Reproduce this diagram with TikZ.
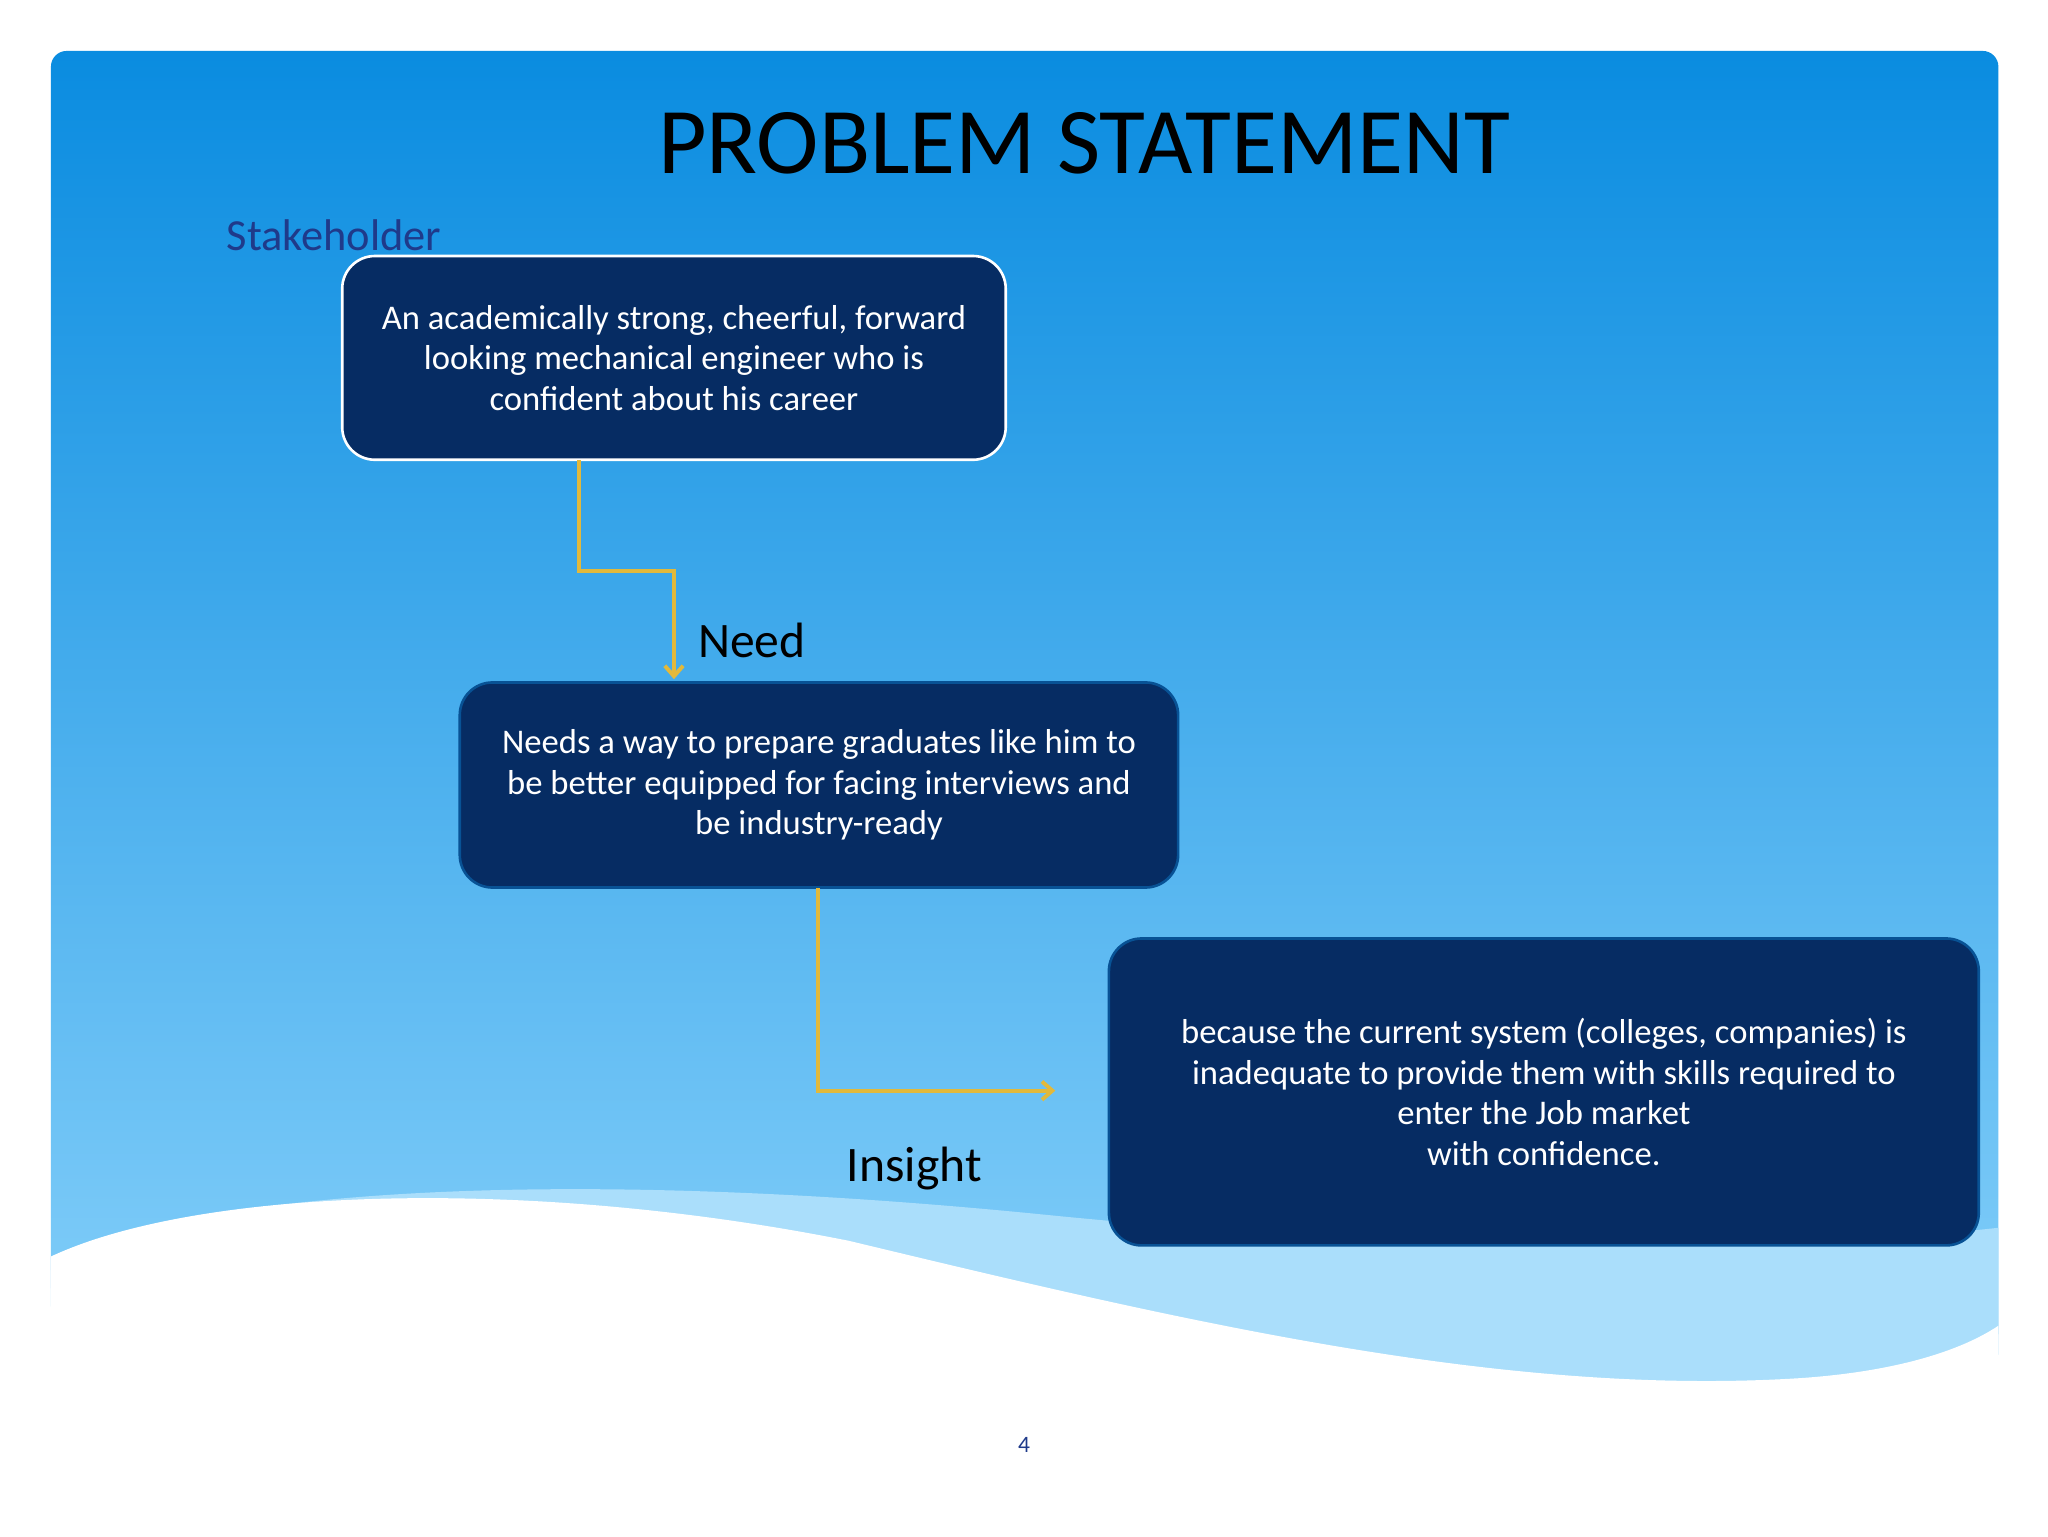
\documentclass[tikz,border=0pt]{standalone}
\usepackage{fontspec}
\setmainfont{Carlito}
\begin{document}
\begin{tikzpicture}[x=1pt,y=-1pt,
  box/.style={draw=#1,line width=2pt,fill=boxblue,rounded corners=25pt,text=white,align=center,font=\fontsize{26.5}{31}\selectfont,inner sep=0pt},
  conn/.style={draw=gold,line width=3pt,-{Straight Barb[length=8pt,width=14pt]}},
  lbl/.style={font=\fontsize{38}{40}\selectfont,text=black}]
\usetikzlibrary{arrows.meta}
\definecolor{boxblue}{HTML}{062C63}
\definecolor{gold}{HTML}{E2B93B}
\definecolor{topblue}{HTML}{0A8CE0}
\definecolor{botblue}{HTML}{86D0FA}
\definecolor{navy}{HTML}{1F3A8A}
\useasboundingbox (0,0) rectangle (1568,1176);
\fill[white] (0,0) rectangle (1568,1176);
\shade[top color=topblue,bottom color=botblue,rounded corners=12pt] (39,39) rectangle (1530,1060);
\fill[botblue!70!white] (39,962) .. controls (200,900) and (500,900) .. (800,930) .. controls (1100,960) and (1350,960) .. (1530,940) -- (1530,1176) -- (39,1176) -- cycle;
\fill[white] (39,962) .. controls (150,910) and (400,900) .. (650,950) .. controls (900,1010) and (1150,1070) .. (1380,1055) .. controls (1450,1050) and (1500,1035) .. (1530,1015) -- (1532,1180) -- (36,1180) -- cycle;
\node[font=\fontsize{72}{74}\selectfont] (title) at (830,110) {PROBLEM STATEMENT};
\node[anchor=west,text=navy,font=\fontsize{34}{36}\selectfont] (stk) at (170,180) {Stakeholder};
\node[box=white,minimum width=508pt,minimum height=156pt] (b1) at (516,274) {An academically strong, cheerful, forward\\looking mechanical engineer who is\\confident about his career};
\node[box=boxblue!60!topblue,minimum width=550pt,minimum height=157pt] (b2) at (627,601) {Needs a way to prepare graduates like him to\\be better equipped for facing interviews and\\be industry-ready};
\node[box=boxblue!60!topblue,minimum width=666pt,minimum height=235pt] (b3) at (1182,836) {because the current system (colleges, companies) is\\inadequate to provide them with skills required to\\enter the Job market\\with confidence.};
\coordinate (a1) at (443,352);
\coordinate (a2) at (516,520);
\draw[conn] (a1) -- (443,437) -- (516,437) -- (a2);
\coordinate (c1) at (626,680);
\coordinate (c2) at (808,835);
\draw[conn] (c1) -- (626,835) -- (c2);
\node[lbl,anchor=west] (need) at (531,490) {Need};
\node[lbl] (ins) at (700,895) {Insight};
\node[text=navy,font=\fontsize{18}{20}\selectfont] (pg) at (784,1106) {4};
\end{tikzpicture}
\end{document}
